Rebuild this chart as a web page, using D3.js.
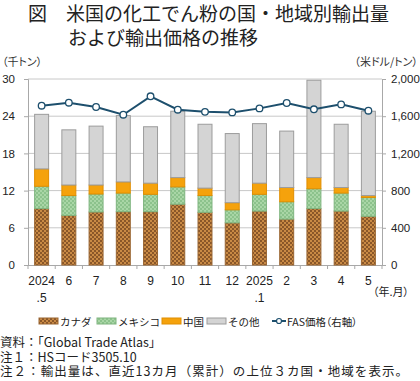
<!DOCTYPE html>
<html><head><meta charset="utf-8">
<script src="https://cdn.jsdelivr.net/npm/d3@7/dist/d3.min.js"></script>
<style>
body{margin:0;background:#fff;}
svg{display:block;font-family:"Noto Sans CJK JP","Liberation Sans",sans-serif;}
.palt{font-feature-settings:"palt" 1;}
</style></head>
<body><svg id="c" width="420" height="381"></svg>
<script>
const labels = ["2024","6","7","8","9","10","11","12","2025","2","3","4","5"];
const subLabels = [".5","","","","","","","",".1","","","",""];
const canada = [9.1, 8.0, 8.55, 8.6, 8.6, 9.8, 8.5, 6.8, 8.7, 7.4, 9.1, 8.7, 7.85];
const mexico = [3.6, 3.2, 2.9, 3.0, 2.8, 2.8, 2.7, 2.1, 2.7, 2.8, 3.2, 2.9, 3.05];
const china  = [2.8, 1.7, 1.45, 1.8, 1.8, 1.5, 1.2, 1.15, 1.8, 2.3, 1.8, 0.9, 0.3];
const other  = [8.8, 8.9, 9.5, 10.7, 9.1, 10.7, 10.3, 11.15, 9.6, 9.1, 15.7, 10.2, 13.6];
const price  = [1713, 1745, 1699, 1616, 1814, 1670, 1647, 1641, 1684, 1742, 1674, 1727, 1659];
const leftTicks = [0, 6, 12, 18, 24, 30];
const rightTicks = [0, 400, 800, 1200, 1600, 2000];
const seriesNames = ["カナダ","メキシコ","中国","その他"];

const svg = d3.select("#c");
const defs = svg.append("defs");
function checker(id, a, b){
  const p = defs.append("pattern").attr("id", id).attr("width",4).attr("height",4)
    .attr("patternUnits","userSpaceOnUse");
  p.append("rect").attr("width",4).attr("height",4).attr("fill",a);
  p.append("rect").attr("x",0).attr("y",0).attr("width",2).attr("height",2).attr("fill",b);
  p.append("rect").attr("x",2).attr("y",2).attr("width",2).attr("height",2).attr("fill",b);
}
checker("pBrown", "#c98a45", "#8a5729");
checker("pGreen", "#a9d6a6", "#8cc28c");

const fills = ["url(#pBrown)","url(#pGreen)","#f5a20c","#d4d4d4"];
const strokes = ["#9a6633","#7fb47f","#e08e00","#9c9c9c"];

const L = 28, R = 382, T = 79, B = 265;
const x = d3.scaleBand().domain(d3.range(labels.length)).range([L, R]).paddingInner(0.45).paddingOuter(0.225);
const xb = d3.scaleBand().domain(d3.range(labels.length)).range([L, R]);
const y = d3.scaleLinear().domain([0, 30]).range([B, T]);
const y2 = d3.scaleLinear().domain([0, 2000]).range([B, T]);
const numFont = "Liberation Sans, Arial, sans-serif";

// title
svg.append("text").attr("x",28).attr("y",21).attr("font-size",19).attr("fill","#222").text("図　米国の化工でん粉の国・地域別輸出量");
svg.append("text").attr("x",68).attr("y",45).attr("font-size",19).attr("fill","#222").text("および輸出価格の推移");

// unit labels
svg.append("text").attr("class","palt").attr("x",2).attr("y",66).attr("font-size",11).attr("fill","#333").text("（千トン）");
svg.append("text").attr("class","palt").attr("x",418).attr("y",66).attr("text-anchor","end").attr("font-size",11).attr("fill","#333").text("（米ドル/トン）");

// gridlines
svg.append("g").selectAll("line").data(leftTicks.filter(d=>d>0)).join("line")
  .attr("x1",L).attr("x2",R).attr("y1",d=>y(d)).attr("y2",d=>y(d))
  .attr("stroke","#c8c8c8").attr("stroke-width",1);

// axes
const gl = svg.append("g").attr("transform",`translate(${L},0)`)
  .call(d3.axisLeft(y).tickValues(leftTicks).tickSize(4).tickPadding(9));
const gr = svg.append("g").attr("transform",`translate(${R},0)`)
  .call(d3.axisRight(y2).tickValues(rightTicks).tickSize(4).tickPadding(5).tickFormat(d3.format(",")));
[gl, gr].forEach(g=>{
  g.select(".domain").attr("stroke","#a8a8a8");
  g.selectAll(".tick line").attr("stroke","#a8a8a8");
  g.selectAll(".tick text").attr("font-size",11.5).attr("fill","#222").attr("font-family",numFont);
});

// x axis
svg.append("line").attr("x1",L).attr("x2",R).attr("y1",B+0.5).attr("y2",B+0.5).attr("stroke","#a8a8a8");
svg.append("g").selectAll("line").data(d3.range(labels.length+1)).join("line")
  .attr("x1",d=>L + d*xb.step()).attr("x2",d=>L + d*xb.step())
  .attr("y1",B).attr("y2",B+4).attr("stroke","#a8a8a8");

// stacked bars
const data = labels.map((l,i)=>({i, v:[canada[i], mexico[i], china[i], other[i]]}));
const gb = svg.append("g");
data.forEach(d=>{
  let acc = 0;
  d.v.forEach((v,k)=>{
    const y0 = acc, y1 = acc + v; acc = y1;
    gb.append("rect").attr("x",x(d.i)+0.5).attr("width",x.bandwidth()-1)
      .attr("y",y(y1)).attr("height",y(y0)-y(y1))
      .attr("fill",fills[k]).attr("stroke",strokes[k]).attr("stroke-width",1);
  });
});

// x labels
svg.append("g").selectAll("text").data(labels).join("text")
  .attr("x",(d,i)=>xb(i)+xb.bandwidth()/2).attr("y",285).attr("text-anchor","middle")
  .attr("font-size",12).attr("fill","#222").attr("font-family",numFont).text(d=>d);
svg.append("g").selectAll("text").data(subLabels).join("text")
  .attr("x",(d,i)=>xb(i)+xb.bandwidth()/2).attr("y",302).attr("text-anchor","middle")
  .attr("font-size",12).attr("fill","#222").attr("font-family",numFont).text(d=>d);
svg.append("text").attr("class","palt").attr("x",409).attr("y",296).attr("text-anchor","end").attr("font-size",11).attr("fill","#222").text("（年.月）");

// price line
const line = d3.line().x((d,i)=>xb(i)+xb.bandwidth()/2).y(d=>y2(d));
svg.append("path").datum(price).attr("d",line).attr("fill","none").attr("stroke","#1d4f6d").attr("stroke-width",2);
svg.append("g").selectAll("circle").data(price).join("circle")
  .attr("cx",(d,i)=>xb(i)+xb.bandwidth()/2).attr("cy",d=>y2(d)).attr("r",3.3)
  .attr("fill","#fff").attr("stroke","#1d4f6d").attr("stroke-width",1.3);

// legend
const lg = svg.append("g").attr("font-size",10.5).attr("fill","#222");
const legX = [39, 97, 162, 207];
seriesNames.forEach((n,k)=>{
  lg.append("rect").attr("x",legX[k]).attr("y",318).attr("width",19).attr("height",6)
    .attr("fill",fills[k]).attr("stroke",strokes[k]);
  lg.append("text").attr("x",legX[k]+21).attr("y",325.5).text(n);
});
lg.append("line").attr("x1",272).attr("x2",286).attr("y1",321).attr("y2",321).attr("stroke","#1d4f6d").attr("stroke-width",2);
lg.append("circle").attr("cx",279).attr("cy",321).attr("r",2.5).attr("fill","#fff").attr("stroke","#1d4f6d").attr("stroke-width",1.2);
lg.append("text").attr("class","palt").attr("x",287).attr("y",325.5).text("FAS価格（右軸）");

// notes
const notes = ["資料：「Global Trade Atlas」","注１：HSコード3505.10","注２：輸出量は、直近13カ月（累計）の上位３カ国・地域を表示。"];
const notesG = svg.append("g");
notes.forEach((t,i)=>{
  const el = notesG.append("text").attr("x",0).attr("y",347 + i*14.5).attr("font-size",12.5).attr("fill","#222").text(t);
  if (i === 2) el.attr("textLength",408).attr("lengthAdjust","spacing");
});
</script></body></html>
